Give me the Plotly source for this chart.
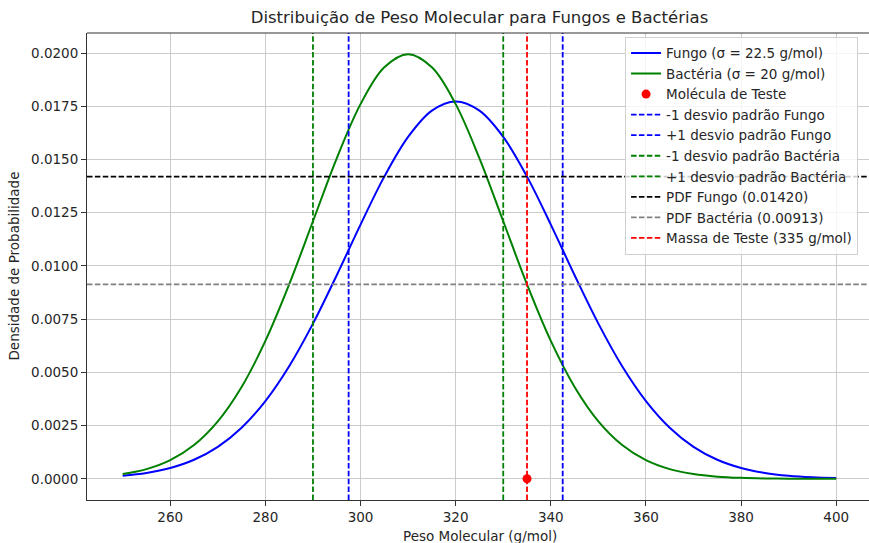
import plotly.graph_objects as go

# Molecular weight grid (g/mol)
peso = [250, 255, 260, 265, 270, 275, 280, 285, 290, 295, 300, 305, 310, 315, 320,
        325, 330, 335, 340, 345, 350, 355, 360, 365, 370, 375, 380, 385, 390, 395, 400]

# Probability density, fungi (mean 320, sigma 22.5)
pdf_fungo = [0.000140, 0.000273, 0.000507, 0.000893, 0.001501, 0.002400, 0.003651,
             0.005288, 0.007289, 0.009564, 0.011944, 0.014197, 0.016064, 0.017299,
             0.017731, 0.017299, 0.016064, 0.014197, 0.011944, 0.009564, 0.007289,
             0.005288, 0.003651, 0.002400, 0.001501, 0.000893, 0.000507, 0.000273,
             0.000140, 0.0000686, 0.0000319]

# Probability density, bacteria (mean 310, sigma 20)
pdf_bacteria = [0.000222, 0.000455, 0.000876, 0.001587, 0.002700, 0.004314, 0.006476,
                0.009132, 0.012099, 0.015057, 0.017603, 0.019333, 0.019947, 0.019333,
                0.017603, 0.015057, 0.012099, 0.009132, 0.006476, 0.004314, 0.002700,
                0.001587, 0.000876, 0.000455, 0.000222, 0.000101, 0.0000436, 0.0000176,
                0.0000067, 0.0000024, 0.0000008]

# Reference markers
desvios_fungo = [297.5, 342.5]
desvios_bacteria = [290.0, 330.0]
massa_teste = 335.0
pdf_teste_fungo = 0.01420
pdf_teste_bacteria = 0.00913

x_ticks = [260, 280, 300, 320, 340, 360, 380, 400]
y_ticks = [0.0, 0.0025, 0.0050, 0.0075, 0.0100, 0.0125, 0.0150, 0.0175, 0.0200]
y_tick_text = ["0.0000", "0.0025", "0.0050", "0.0075", "0.0100",
               "0.0125", "0.0150", "0.0175", "0.0200"]

X_RANGE = [242.5, 406.89]
Y_RANGE = [-0.000997, 0.020944]

FONT = "DejaVu Sans"
DASH = "5.5px,2.4px"

fig = go.Figure()

fig.add_trace(go.Scatter(x=peso, y=pdf_fungo, mode="lines", line_shape="spline",
                         line=dict(color="#0000ff", width=2),
                         name="Fungo (σ = 22.5 g/mol)"))
fig.add_trace(go.Scatter(x=peso, y=pdf_bacteria, mode="lines", line_shape="spline",
                         line=dict(color="#008000", width=2),
                         name="Bactéria (σ = 20 g/mol)"))
fig.add_trace(go.Scatter(x=[massa_teste], y=[0], mode="markers",
                         marker=dict(color="#ff0000", size=9),
                         name="Molécula de Teste"))


def vline(x, color, name):
    fig.add_trace(go.Scatter(x=[x, x], y=Y_RANGE, mode="lines",
                             line=dict(color=color, width=1.8, dash=DASH), name=name))


def hline(y, color, name):
    fig.add_trace(go.Scatter(x=X_RANGE, y=[y, y], mode="lines",
                             line=dict(color=color, width=1.8, dash=DASH), name=name))


vline(desvios_fungo[0], "#0000ff", "-1 desvio padrão Fungo")
vline(desvios_fungo[1], "#0000ff", "+1 desvio padrão Fungo")
vline(desvios_bacteria[0], "#008000", "-1 desvio padrão Bactéria")
vline(desvios_bacteria[1], "#008000", "+1 desvio padrão Bactéria")
hline(pdf_teste_fungo, "#000000", f"PDF Fungo ({pdf_teste_fungo:.5f})")
hline(pdf_teste_bacteria, "#808080", f"PDF Bactéria ({pdf_teste_bacteria:.5f})")
vline(massa_teste, "#ff0000", "Massa de Teste (335 g/mol)")

axis_common = dict(
    showgrid=True, gridcolor="#cbcbcb", gridwidth=1,
    zeroline=False, showline=True, linecolor="#333333", linewidth=1,
    ticks="outside", ticklen=5, tickwidth=1, tickcolor="#333333",
    tickfont=dict(family=FONT, size=13.5, color="#262626"),
)

fig.update_xaxes(range=X_RANGE, tickmode="array", tickvals=x_ticks, **axis_common)
fig.update_yaxes(range=Y_RANGE, tickmode="array", tickvals=y_ticks,
                 ticktext=y_tick_text, **axis_common)

fig.update_layout(
    width=869, height=543,
    margin=dict(l=87, r=0, t=33, b=43),
    plot_bgcolor="white", paper_bgcolor="white",
    font=dict(family=FONT, color="#262626"),
    title=dict(text="Distribuição de Peso Molecular para Fungos e Bactérias",
               xref="container", x=479.5 / 869, xanchor="center",
               yref="container", y=1 - 17 / 543, yanchor="middle",
               font=dict(family=FONT, size=16.5, color="#262626")),
    legend=dict(x=0.986, y=0.992, xanchor="right", yanchor="top",
                bgcolor="rgba(255,255,255,0.8)", bordercolor="#d0d0d0", borderwidth=1,
                font=dict(family=FONT, size=13.5, color="#262626"),
                itemwidth=30),
    showlegend=True,
    annotations=[
        dict(text="Peso Molecular (g/mol)", xref="paper", yref="paper",
             x=0.502, y=-0.056, xanchor="center", yanchor="top", showarrow=False,
             font=dict(family=FONT, size=13.5, color="#262626")),
        dict(text="Densidade de Probabilidade", xref="paper", yref="paper",
             x=-0.0946, y=0.5, xanchor="center", yanchor="middle", showarrow=False,
             textangle=-90, font=dict(family=FONT, size=13.5, color="#262626")),
    ],
    shapes=[
        # top frame edge
        dict(type="line", xref="paper", yref="paper", x0=0, x1=1, y0=1, y1=1,
             line=dict(color="#333333", width=1)),
    ],
)

fig.write_html("out.html")
